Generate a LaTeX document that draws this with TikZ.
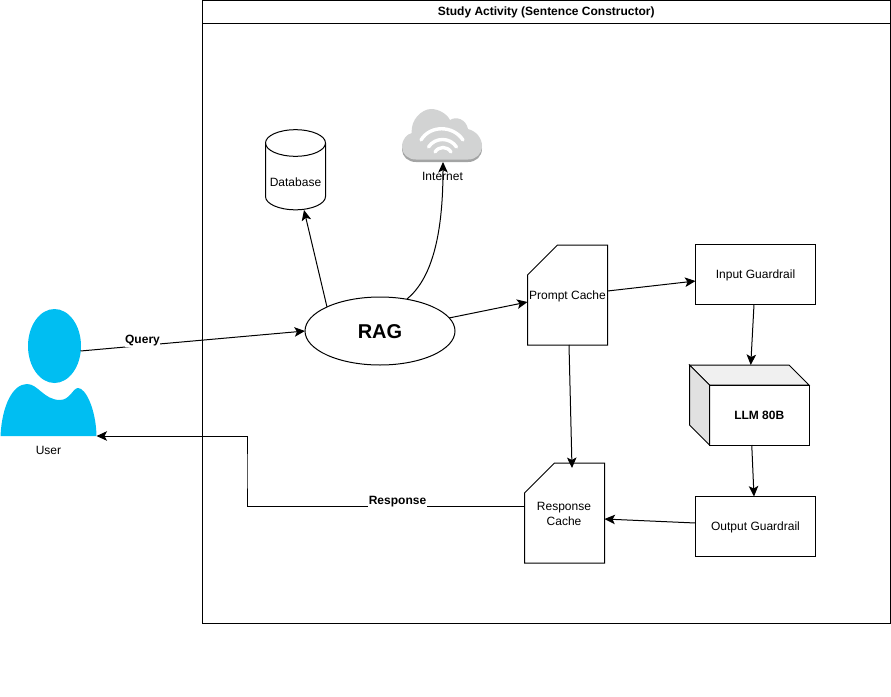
\documentclass[tikz,border=0pt]{standalone}
\usepackage{fontspec}
\setmainfont{Liberation Sans}
\usetikzlibrary{arrows.meta,shapes.geometric}
\definecolor{userblue}{HTML}{00BEF2}
\definecolor{cloudgray}{HTML}{D2D3D3}
\definecolor{clouddark}{HTML}{A3A4A4}
\definecolor{boxtop}{HTML}{F0F0F0}
\definecolor{boxside}{HTML}{E1E1E1}
\tikzset{
  every node/.style={font=\fontsize{12}{15}\selectfont,inner sep=0pt,outer sep=0pt,align=center,text height=8pt,text depth=0pt},
  shapeline/.style={draw=black,line width=1pt,line join=miter},
  guard/.style={shapeline,rectangle,minimum width=120,minimum height=60},
  linkarrow/.style={draw=black,line width=1pt,-{Stealth[length=10.5pt,width=9.5pt,inset=2.5pt]}},
  edgelabel/.style={fill=white,font=\fontsize{12}{15}\selectfont\bfseries,inner xsep=0.5pt,inner ysep=3pt},
  wifi/.style={draw=white,line width=3.4pt,line cap=round},
}
\begin{document}
\begin{tikzpicture}[x=1pt,y=-1pt]
\useasboundingbox (0,0) rectangle (891,696);
% frame
\node[shapeline,rectangle,minimum width=687.5,minimum height=622.5] (frame) at (546.25,311.75) {};
\node[shapeline,rectangle,minimum width=687.5,minimum height=23,font=\fontsize{12}{15}\selectfont\bfseries] (title) at (546.25,12) {Study Activity (Sentence Constructor)};
% user
\node[ellipse,fill=userblue,minimum width=53,minimum height=74] (head) at (54.5,346) {};
\node[rectangle,minimum width=96,minimum height=52] (body) at (48.5,410) {};
\fill[userblue] (body.south west) .. controls (2,405) and (13,384) .. (27,384) .. controls (38,384) and (44,400) .. (60,400) .. controls (70,400) and (73,388) .. (78,388) .. controls (86,388) and (96,410) .. (body.south east) -- cycle;
\node (userlabel) at (48.5,450) {User};
% database
\node[rectangle,minimum width=60,minimum height=80] (db) at (295.5,169.5) {};
\draw[shapeline,fill=white] (265.5,143) arc[start angle=180,end angle=0,x radius=30,y radius=-13.3] -- (325.5,196.5) arc[start angle=0,end angle=-180,x radius=30,y radius=-13.3] -- cycle;
\draw[shapeline] (265.5,143) arc[start angle=180,end angle=360,x radius=30,y radius=-13.3];
\node (dblabel) at (295.5,182) {Database};
% cloud
\node[rectangle,minimum width=80,minimum height=54] (cloud) at (442,135) {};
\begin{scope}[shift={(0,2.5)}]
\fill[clouddark] (402,147) .. controls (402,139) and (407,134) .. (412,133) .. controls (410,120) and (422,109) .. (431,109) .. controls (439,109) and (447,114) .. (450,120) .. controls (456,116) and (466,119) .. (468,129) .. controls (476,131) and (482,138) .. (482,146) .. controls (482,154) and (476,159.5) .. (468,159.5) -- (416,159.5) .. controls (408,159.5) and (402,154) .. (402,147) -- cycle;
\end{scope}
\fill[cloudgray] (402,147) .. controls (402,139) and (407,134) .. (412,133) .. controls (410,120) and (422,109) .. (431,109) .. controls (439,109) and (447,114) .. (450,120) .. controls (456,116) and (466,119) .. (468,129) .. controls (476,131) and (482,138) .. (482,146) .. controls (482,154) and (476,159.5) .. (468,159.5) -- (416,159.5) .. controls (408,159.5) and (402,154) .. (402,147) -- cycle;
\draw[wifi] (421,140) .. controls (430,125) and (453,125) .. (463,140);
\draw[wifi] (428.5,147) .. controls (435,137) and (450,137) .. (456.5,147);
\draw[wifi] (435,152) .. controls (439,146) and (447,146) .. (451,152);
\node (cloudlabel) at (442.5,176) {Internet};
% RAG
\node[ellipse,shapeline,fill=white,minimum width=150,minimum height=68,font=\fontsize{20}{24}\selectfont\bfseries,text height=14pt] (rag) at (380,331) {RAG};
% prompt cache
\node[rectangle,minimum width=80,minimum height=100] (prompt) at (567.5,295) {Prompt Cache};
\draw[shapeline] (prompt.south west) -- (527.5,275) -- (557.5,245) -- (prompt.north east) -- (prompt.south east) -- cycle;
% response cache
\node[rectangle,minimum width=80,minimum height=100] (resp) at (564.5,513) {};
\draw[shapeline] (resp.south west) -- (524.5,493) -- (554.5,463) -- (resp.north east) -- (resp.south east) -- cycle;
\node (resptop) at (564,506) {Response};
\node (respbottom) at (564,521) {Cache};
% guardrails
\node[guard] (input) at (755.5,274.5) {Input Guardrail};
\node[guard] (output) at (755.5,526.5) {Output Guardrail};
% LLM
\node[rectangle,minimum width=99.5,minimum height=60,font=\fontsize{12}{15}\selectfont\bfseries] (llm) at (759.25,415) {LLM 80B};
\draw[shapeline,fill=boxtop] (689.5,365) -- (789,365) -- (llm.north east) -- (llm.north west) -- cycle;
\draw[shapeline,fill=boxside] (689.5,365) -- (llm.north west) -- (llm.south west) -- (689.5,425) -- cycle;
\draw[shapeline] (llm.south west) rectangle (llm.north east);
% connectors
\coordinate (bend) at (247,471);
\draw[linkarrow] ([shift={(26,5)}]head.center) -- (rag.west);
\draw[linkarrow] ([shift={(-53,-24)}]rag.center) -- ([shift={(8.5,40.5)}]db.center);
\draw[linkarrow] ([shift={(27,-32)}]rag.center) .. controls (430,280) and (443,240) .. ([shift={(1,27)}]cloud.center);
\draw[linkarrow] ([shift={(69,-13)}]rag.center) -- ([shift={(-40,7)}]prompt.center);
\draw[linkarrow] ([shift={(40,-4)}]prompt.center) -- ([shift={(-60,6.5)}]input.center);
\draw[linkarrow] ([shift={(-1.5,30)}]input.center) -- ([shift={(-8.5,-50)}]llm.center);
\draw[linkarrow] ([shift={(-7.5,30)}]llm.center) -- ([shift={(-1.5,-30)}]output.center);
\draw[linkarrow] ([shift={(-60,-3.5)}]output.center) -- ([shift={(40,6)}]resp.center);
\draw[linkarrow] ([shift={(1.5,50)}]prompt.center) -- ([shift={(7.5,-45)}]resp.center);
\draw[linkarrow] ([shift={(0,-7)}]resp.west) -| (bend) |- (body.south east);
% connector labels
\node[edgelabel] (query) at (142.5,339.5) {Query};
\node[edgelabel] (resplabel) at (397.5,500.5) {Response};
\end{tikzpicture}
\end{document}
